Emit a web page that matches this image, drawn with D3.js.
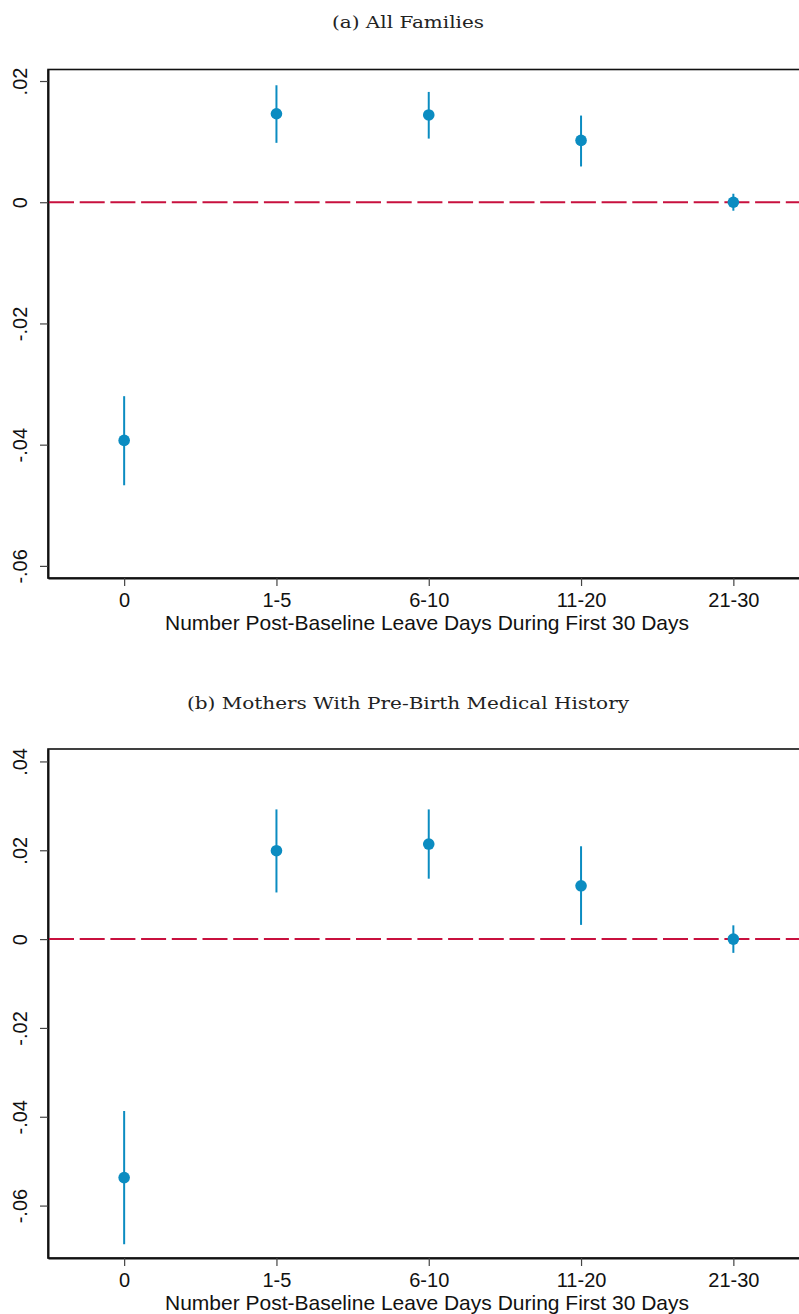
<!DOCTYPE html>
<html>
<head>
<meta charset="utf-8">
<script src="https://cdn.jsdelivr.net/npm/d3@7"></script>
<style>
    body { margin: 0; background: #fff; }
    .tick text { font-family: "Liberation Sans", Arial, sans-serif; }
</style>
</head>
<body>
<svg id="chart" width="799" height="1314"></svg>
<script>
// categories on the x axis
const categories = ["0", "1-5", "6-10", "11-20", "21-30"];

// panel (a): all families
const estA = [-0.0393, 0.0146, 0.0144, 0.0102, 0.0000];
const lowA = [-0.0467, 0.0098, 0.0105, 0.0059, -0.0014];
const highA = [-0.0320, 0.0193, 0.0182, 0.0143, 0.0014];
const ticksA = [0.02, 0, -0.02, -0.04, -0.06];

// panel (b): mothers with pre-birth medical history
const estB = [-0.0537, 0.0199, 0.0214, 0.0120, 0.0000];
const lowB = [-0.0687, 0.0105, 0.0136, 0.0032, -0.0031];
const highB = [-0.0387, 0.0292, 0.0292, 0.0209, 0.0031];
const ticksB = [0.04, 0.02, 0, -0.02, -0.04, -0.06];

const xTitle = "Number Post-Baseline Leave Days During First 30 Days";

const dotColor = "#0b8cc1";
const refColor = "#c8103e";

const svg = d3.select("#chart");

// format like stata: .02, 0, -.04 (plain hyphen as minus)
function fmt(v) {
    if (Math.abs(v) < 1e-9) return "0";
    return d3.format(".2f")(v).replace("\u2212", "-").replace("0.", ".");
}

function drawPanel(opts) {
    const left = 48, right = 809.5;
    const top = opts.top, bottom = opts.bottom;

    const x = d3.scalePoint()
        .domain(categories)
        .range([left, right])
        .padding(0.5);
    const y = d3.scaleLinear()
        .domain(opts.domain)
        .range([bottom, top]);

    // title (serif, stretched a bit to match the LaTeX caption width)
    svg.append("text")
        .attr("x", 408)
        .attr("y", opts.titleY)
        .attr("text-anchor", "middle")
        .attr("font-family", "'DejaVu Serif', serif")
        .attr("font-size", "16px")
        .attr("fill", "#222")
        .attr("textLength", opts.titleWidth)
        .attr("lengthAdjust", "spacingAndGlyphs")
        .text(opts.title);

    // plot box
    svg.append("rect")
        .attr("x", left)
        .attr("y", top)
        .attr("width", right - left)
        .attr("height", bottom - top)
        .attr("fill", "none")
        .attr("stroke", "#111")
        .attr("stroke-width", 1.6);

    // y axis
    const yAxis = svg.append("g")
        .attr("transform", `translate(${left},0)`)
        .call(d3.axisLeft(y).tickValues(opts.ticks).tickFormat(fmt).tickSize(8).tickSizeOuter(0));
    yAxis.select(".domain").attr("stroke", "#111").attr("stroke-width", 2);
    yAxis.selectAll(".tick line").attr("stroke", "#444").attr("stroke-width", 1.2);
    yAxis.selectAll(".tick text")
        .attr("font-size", "20px")
        .attr("fill", "#111")
        .attr("text-anchor", "middle")
        .attr("x", 0)
        .attr("y", 0)
        .attr("dy", "0.36em")
        .attr("transform", "translate(-28,0) rotate(-90)");

    // x axis
    const xAxis = svg.append("g")
        .attr("transform", `translate(0,${bottom})`)
        .call(d3.axisBottom(x).tickSize(8).tickSizeOuter(0).tickPadding(7));
    xAxis.select(".domain").attr("stroke", "#111").attr("stroke-width", 2);
    xAxis.selectAll(".tick line").attr("stroke", "#444").attr("stroke-width", 1.2);
    xAxis.selectAll(".tick text")
        .attr("font-size", "20px")
        .attr("fill", "#111");

    svg.append("text")
        .attr("x", 427)
        .attr("y", bottom + 52)
        .attr("text-anchor", "middle")
        .attr("font-family", "'Liberation Sans', Arial, sans-serif")
        .attr("font-size", "21px")
        .attr("fill", "#111")
        .text(xTitle);

    // reference line at zero
    svg.append("line")
        .attr("x1", left + 1)
        .attr("x2", 799)
        .attr("y1", y(0))
        .attr("y2", y(0))
        .attr("stroke", refColor)
        .attr("stroke-width", 2)
        .attr("stroke-dasharray", "25,5.7");

    // confidence intervals
    const g = svg.append("g");
    g.selectAll("line")
        .data(categories)
        .join("line")
        .attr("x1", d => x(d))
        .attr("x2", d => x(d))
        .attr("y1", (d, i) => y(opts.low[i]))
        .attr("y2", (d, i) => y(opts.high[i]))
        .attr("stroke", dotColor)
        .attr("stroke-width", 2);

    // point estimates
    g.selectAll("circle")
        .data(categories)
        .join("circle")
        .attr("cx", d => x(d))
        .attr("cy", (d, i) => y(opts.est[i]))
        .attr("r", 5.8)
        .attr("fill", dotColor);
}

drawPanel({
    title: "(a) All Families",
    titleY: 28,
    titleWidth: 152,
    top: 69.5,
    bottom: 578,
    domain: [-0.062, 0.0219],
    ticks: ticksA,
    est: estA, low: lowA, high: highA
});

drawPanel({
    title: "(b) Mothers With Pre-Birth Medical History",
    titleY: 709,
    titleWidth: 442,
    top: 749,
    bottom: 1258,
    domain: [-0.0718, 0.0428],
    ticks: ticksB,
    est: estB, low: lowB, high: highB
});
</script>
</body>
</html>
